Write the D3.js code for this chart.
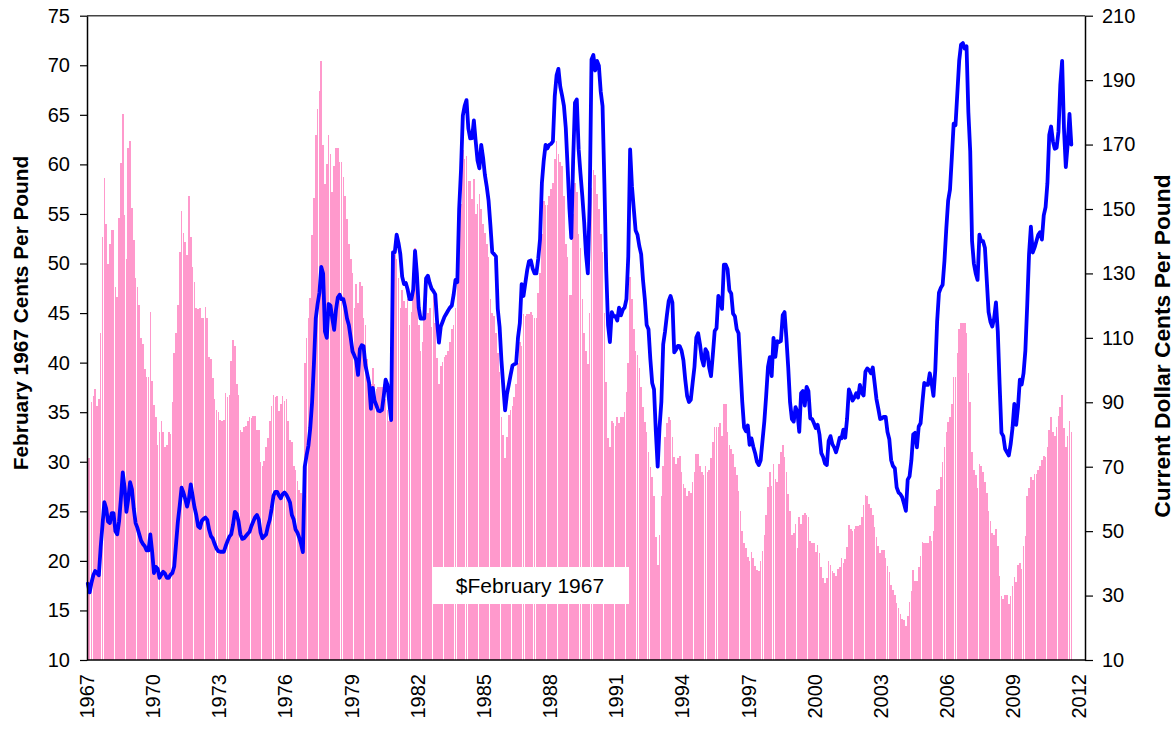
<!DOCTYPE html>
<html>
<head>
<meta charset="utf-8">
<script src="https://cdn.jsdelivr.net/npm/d3@7"></script>
<style>
  body { margin: 0; background: #ffffff; }
  svg text { font-family: "Liberation Sans", Arial, sans-serif; fill: #000; }
</style>
</head>
<body>
<svg id="chart" width="1175" height="730"></svg>
<script>
// monthly values, Feb 1967 cents per pound (pink bars, left axis)
const bars1967to1975 = [
  30.4, 30.4, 36, 36.6, 37.3, 35.6, 36.3, 43, 52.7, 58.6, 54, 50,
  52, 53.4, 53.4, 47.6, 46.6, 54.6, 60.1, 65.1, 54.9, 50.5, 61.7, 62.4,
  55.6, 52.4, 48.5, 47.6, 45.8, 42.5, 41.9, 39.4, 38.6, 38.6, 45.1, 38.1,
  35.7, 34.5, 31.7, 33, 34.1, 33, 31.5, 31.7, 33, 32.8, 36, 41,
  43, 45.8, 51.2, 55.3, 53.1, 52.2, 50.9, 56.8, 52.7, 49.6, 48.1, 45.5,
  45.4, 45.5, 44.5, 44.5, 45.6, 44.5, 40.6, 40.4, 38.4, 36.3, 35.2, 35,
  34.2, 34.1, 34.2, 36.9, 36.5, 36.7, 40.2, 42.3, 41.7, 37.8, 36.7, 33.2,
  33, 33.5, 33.6, 34.1, 34.5, 34.4, 34.6, 34.6, 33.2, 33.2, 30, 29.6,
  30.1, 31.5, 32.4, 34.1, 35.6, 36.7, 36.5, 36.6, 35.1, 35.8, 36.6, 36.1
];
const bars1976to1984 = [
  36.3, 34.1, 32.2, 32, 29.6, 29.2, 28.1, 27.2, 26.8, 25.5, 40, 42.5,
  44.5, 46.5, 52.9, 56.6, 63, 65.6, 67.4, 70.4, 62, 58, 60, 63,
  61, 57.2, 59.8, 61.7, 61.7, 60.2, 60.2, 58.7, 56.8, 54.5, 52, 50.5,
  49, 45.5, 47.9, 46, 48.1, 47.7, 44.5, 43.8, 40.4, 38.6, 37.8, 39.5,
  37.8, 37.3, 37.5, 37.5, 37.5, 37.8, 36.3, 35.2, 34.1, 34.3, 50.7, 51.6,
  50.5, 48.5, 45.5, 47.3, 46.2, 45.5, 46.4, 43.8, 45.1, 49, 51.6, 48.6,
  43.8, 41.2, 42.1, 44.5, 47, 45, 45.5, 43.6, 46.8, 44, 40.5, 37.8,
  39.7, 40.1, 40.6, 40.8, 41.2, 42.1, 43.4, 43.8, 45.5, 48, 52, 56,
  61.5, 60.5, 60.8, 58.3, 58.3, 56.5, 58.5, 55, 56, 57, 55.5, 54
];
const bars1985to1993 = [
  53.1, 52, 50.7, 46.4, 45, 44.7, 43, 41, 39.1, 34.5, 32.7, 30.4,
  32.5, 34.7, 35.2, 35.6, 36.5, 37.8, 40, 42.1, 41.7, 44.9, 44.7, 44.9,
  44.9, 45.1, 44.8, 44.5, 44.5, 47, 49, 53, 56.3, 55.9, 55.9, 56.8,
  57.5, 58.1, 60.5, 62.4, 61, 60.2, 59.8, 56.8, 52, 50.7, 46.8, 46.8,
  55, 58.1, 57.2, 53, 51.6, 46.4, 43, 41.2, 39.9, 45, 57.6, 59.4,
  58.9, 57, 55.5, 53, 51.2, 45, 38, 32.4, 31.5, 34.1, 33.9, 33.6,
  34.5, 33.9, 34.5, 34.5, 35, 37, 40, 48.6, 46.4, 43.4, 41.2, 40.8,
  39.5, 37.5, 35.5, 34, 33, 31, 29.5, 28.5, 26.5, 22.4, 19.6, 22.6,
  26.5, 29.6, 32.5, 33.9, 34.5, 34.2, 32.5, 30.5, 29.8, 30.4, 30.6, 29
];
const bars1994to2002 = [
  27.8, 27.4, 26.5, 27, 26.8, 28, 29, 30.8, 30.8, 29.6, 29, 28.7,
  29.6, 29, 29.2, 30.4, 32, 33.5, 33.5, 33.5, 33.9, 32.6, 35.8, 35.8,
  33, 31.7, 31.3, 30.8, 29.5, 28.7, 27, 25, 23, 21.8, 21.3, 20.4,
  20, 20.9, 20.3, 19.5, 19.1, 19, 20, 21, 22.6, 24.6, 27.5, 29,
  27.6, 29.8, 28.3, 28, 29.8, 31, 31.7, 30.5, 29, 26.7, 25, 22.6,
  22.8, 23.7, 21.3, 24.4, 23.7, 24.6, 24.8, 24.6, 24.4, 22, 21.8, 21.8,
  20.9, 21.6, 20.8, 19.4, 18.3, 17.8, 18.3, 20, 19.6, 19, 18.8, 18.5,
  19.2, 19.4, 20.3, 19.8, 20.2, 21.4, 23.6, 23.2, 23, 23.2, 23.5, 23.5,
  23.6, 24.4, 25.6, 26.6, 26.5, 25.7, 25.3, 24.6, 23.4, 22.4, 21.5, 20.8
];
const bars2003to2011 = [
  21.1, 21.1, 20.3, 19.5, 18.9, 17.6, 17.1, 16.6, 15.7, 15.2, 14.6, 14.1,
  14, 13.4, 14.4, 15.9, 17, 19.1, 18, 18, 19.4, 20.5, 21.9, 21.8,
  21.8, 21.8, 22.5, 22, 23, 25.5, 27.2, 27.3, 28.5, 30, 31.5, 33,
  34, 34.5, 35.8, 38.6, 38.6, 41, 43.4, 44, 44, 44, 43, 39,
  36, 31, 29.2, 28.7, 27.4, 29.8, 29.6, 29, 28, 26.8, 25, 24,
  22.8, 22.6, 23.2, 21.5, 18.5, 16.5, 16.2, 16.6, 16.6, 15.6, 16.5, 17.5,
  18.4, 17.9, 19.6, 19.8, 19.2, 21.5, 22.5, 26.5, 27.4, 28.5, 28.2, 28.8,
  28.8, 29.2, 29.6, 30.2, 30.6, 30.5, 31.5, 33.2, 34.5, 33, 32.6, 33.5,
  34.6, 35.5, 36.7, 33.4, 31.5, 32.6, 34.1, 33
];

// monthly values, current dollar cents per pound (blue line, right axis)
const line1967to1975 = [
  33.7, 31, 34, 36.3, 37.6, 37, 36.3, 45, 52, 59, 57, 53,
  52.5, 55.6, 55.6, 50, 49, 53, 60, 68.2, 63.5, 56, 60, 65.2,
  63, 57, 52.5, 51, 49, 47, 46, 45.3, 44, 44, 49, 43.6,
  37, 38.9, 38.3, 35.5, 36.5, 37.4, 36.8, 35.5, 35.5, 36.5, 37, 39,
  46, 53, 58, 63.5, 62, 60, 57.6, 60, 64.5, 61, 57.5, 55,
  51.5, 51, 53.2, 53.8, 54.2, 53.5, 50.4, 48.4, 47.7, 46, 44.6, 43.8,
  43.6, 43.6, 43.6, 45.4, 46.9, 48.3, 49, 52, 56, 55.3, 53, 49,
  47.6, 47.8, 48.5, 49.2, 49.8, 51.6, 53, 54.3, 55, 53.6, 49.5, 47.8,
  48.4, 49, 51.6, 53.6, 57, 61, 62.2, 62.2, 61, 60.2, 61.5, 62
];
const line1976to1984 = [
  61.3, 60.2, 58.9, 55, 53.6, 50.5, 49.6, 48, 46, 43.5, 70, 73.5,
  76.5, 82, 90, 102, 116, 120.5, 124, 132, 130, 112, 110, 120.5,
  120, 116, 112.5, 118.7, 122.5, 123.4, 122, 122, 119.5, 116, 114, 110,
  105.8, 104.5, 103, 98.5, 106.5, 107.7, 107.4, 101.5, 98.8, 96, 88, 94.5,
  90.5, 89, 87.4, 87.2, 87.6, 92, 97, 95.5, 90, 84.5, 136.5, 136.6,
  142, 139.5, 136, 129, 126.7, 127, 125, 122, 122, 125, 137, 130,
  119.4, 116, 116, 116, 128.5, 129.3, 127, 125.3, 124.5, 123.5, 115, 108.5,
  113.5, 115, 116.5, 117.5, 118.5, 119.4, 120, 123.4, 128, 127.3, 150, 162,
  179, 182, 183.8, 175, 171.9, 172, 177.5, 171, 165, 162.6, 169.9, 166
];
const line1985to1993 = [
  160.6, 157, 152.6, 145, 136.6, 136, 135.3, 119, 113.4, 103, 95, 87.5,
  92.5, 95.5, 98.5, 101.4, 101.8, 102.1, 110, 114.5, 126.7, 123, 127, 131,
  133.8, 134, 131.5, 130, 130, 134.5, 140.6, 158, 165, 169.9, 168.8, 169.9,
  170.2, 171, 185, 191.5, 193.5, 188, 185.2, 182, 175.2, 163, 150, 141,
  165, 183, 184, 168.5, 161, 154, 146, 136, 130, 152, 196.4, 197.8,
  193, 196, 194.5, 186.5, 182, 158, 131, 114, 108.7, 118, 116.7, 116.7,
  115.4, 119.4, 117, 118.7, 119.4, 122, 135.3, 168.5, 157, 150, 143.3, 142,
  138.5, 136, 128, 122, 114, 112.7, 103.4, 96, 94, 80.8, 70, 82.2,
  90.1, 108, 112, 117, 121.5, 123, 121, 105.5, 106.3, 107.5, 107.4, 106
];
const line1994to2002 = [
  103, 97, 92, 90.1, 90.8, 96, 101, 110.1, 111.4, 108, 103.5, 101.4,
  106.5, 105.5, 100.8, 98.1, 104.8, 112.1, 113, 123, 121.5, 119, 132.7, 132.7,
  131.3, 124.7, 123.8, 117.5, 116.7, 112.7, 111.4, 100.8, 90.1, 82.2, 81, 82.8,
  76.8, 78.8, 76.2, 74.2, 71.5, 70.5, 72, 78, 84, 92, 101, 104,
  98.1, 110, 104.1, 109, 108.7, 109, 117, 118, 110, 100.8, 90, 84.8,
  84, 88.5, 87, 80.8, 92.8, 93.5, 89, 94.8, 93.5, 85, 84.8, 83.5,
  82, 83, 80, 74.2, 73, 71, 70.5, 78, 79.5, 77, 76, 74.5,
  76.5, 79, 78.8, 81.5, 79, 84.8, 94, 92.5, 90.5, 91.5, 92.8, 91.5,
  95.4, 93, 92.1, 99.5, 100.5, 100, 99, 100.8, 96, 91, 88, 84.8
];
const line2003to2011 = [
  85, 85.5, 85.5, 80.8, 78.5, 72, 70.2, 69.5, 63.6, 62, 61.5, 60.5,
  58.5, 56.3, 66, 67, 72, 80, 80.5, 76, 82.5, 83.5, 90, 96,
  95.5, 95.4, 99, 96, 92, 100, 115, 124, 125.5, 126.5, 134, 144,
  152.6, 156, 166, 176.5, 176, 186, 196, 201, 201.5, 199.8, 200.5, 180,
  168, 140, 133, 130, 128, 142, 140, 140, 138, 128, 118, 115,
  113.5, 116, 121, 112, 95.5, 80.5, 79.5, 75.5, 74.5, 73.5, 77, 82,
  89.5, 83, 88.5, 97, 95.5, 99, 106, 120, 136, 144.5, 136.5, 138,
  140, 142, 142.8, 140.5, 148, 150.6, 158, 173, 175.6, 171, 168.7, 169,
  174, 188.5, 196, 175, 163, 170, 179.5, 170
];

// axis labels
const yearLabels = ["1967", "1970", "1973", "1976", "1979", "1982", "1985", "1988",
  "1991", "1994", "1997", "2000", "2003", "2006", "2009", "2012"];
const leftTicks = [10, 15, 20, 25, 30, 35, 40, 45, 50, 55, 60, 65, 70, 75];
const rightTicks = [10, 30, 50, 70, 90, 110, 130, 150, 170, 190, 210];

const barValues = [].concat(bars1967to1975, bars1976to1984, bars1985to1993, bars1994to2002, bars2003to2011);
const lineValues = [].concat(line1967to1975, line1976to1984, line1985to1993, line1994to2002, line2003to2011);

const svg = d3.select("#chart");

// plot box
const plotLeft = 87, plotRight = 1085, plotTop = 15.7, plotBottom = 660;
const slotCount = 543;   // monthly slots on the axis, Jan 1967 to Mar 2012

const x = d3.scaleBand()
    .domain(d3.range(slotCount))
    .range([plotLeft, plotRight])
    .paddingInner(0.12);

const xYears = d3.scaleLinear()
    .domain([0, slotCount])
    .range([plotLeft, plotRight]);

const yLeft = d3.scaleLinear().domain([10, 75]).range([plotBottom, plotTop]);
const yRight = d3.scaleLinear().domain([10, 210]).range([plotBottom, plotTop]);

// pink bars
svg.append("g")
    .selectAll("rect")
    .data(barValues)
    .join("rect")
    .attr("x", (d, i) => x(i))
    .attr("y", d => yLeft(d))
    .attr("width", x.bandwidth())
    .attr("height", d => plotBottom - yLeft(d))
    .attr("fill", "#FF99CC")
    .attr("shape-rendering", "crispEdges");

// blue line
const line = d3.line()
    .x((d, i) => x(i) + x.bandwidth() / 2)
    .y(d => yRight(d));

svg.append("path")
    .datum(lineValues)
    .attr("d", line)
    .attr("fill", "none")
    .attr("stroke", "#0000FF")
    .attr("stroke-width", 3.8)
    .attr("stroke-linejoin", "round")
    .attr("stroke-linecap", "round");

// top border of the plot
svg.append("line")
    .attr("x1", plotLeft).attr("x2", plotRight)
    .attr("y1", plotTop).attr("y2", plotTop)
    .attr("stroke", "#444")
    .attr("stroke-width", 1.5);

// bottom axis line
svg.append("line")
    .attr("x1", plotLeft).attr("x2", plotRight)
    .attr("y1", plotBottom).attr("y2", plotBottom)
    .attr("stroke", "#000")
    .attr("stroke-width", 1.5);

// left axis
const leftAxis = svg.append("g")
    .attr("transform", `translate(${plotLeft},0)`)
    .call(d3.axisLeft(yLeft).tickValues(leftTicks).tickSize(7).tickSizeOuter(0).tickPadding(10));

// right axis
const rightAxis = svg.append("g")
    .attr("transform", `translate(${plotRight},0)`)
    .call(d3.axisRight(yRight).tickValues(rightTicks).tickSize(8).tickSizeOuter(0).tickPadding(9));

[leftAxis, rightAxis].forEach(g => {
    g.select(".domain").attr("stroke", "#000").attr("stroke-width", 1.5);
    g.selectAll(".tick line").attr("stroke", "#000").attr("stroke-width", 1.2);
    g.selectAll(".tick text").attr("font-size", 20).attr("fill", "#000")
        .style("font-family", "'Liberation Sans', Arial, sans-serif");
});

// year labels, rotated, every 36 months
svg.append("g")
    .selectAll("text")
    .data(yearLabels)
    .join("text")
    .attr("transform", (d, i) => `translate(${xYears(i * 36)},674) rotate(-90)`)
    .attr("text-anchor", "end")
    .attr("dy", "0.35em")
    .attr("font-size", 20)
    .text(d => d);

// axis titles
svg.append("text")
    .attr("transform", "translate(21,313) rotate(-90)")
    .attr("text-anchor", "middle")
    .attr("dy", "0.35em")
    .attr("font-size", 20.8)
    .attr("font-weight", "bold")
    .text("February 1967 Cents Per Pound");

svg.append("text")
    .attr("transform", "translate(1162,346) rotate(-90)")
    .attr("text-anchor", "middle")
    .attr("dy", "0.35em")
    .attr("font-size", 22.8)
    .attr("font-weight", "bold")
    .text("Current Dollar Cents Per Pound");

// label box for the bars
svg.append("rect")
    .attr("x", 432).attr("y", 567)
    .attr("width", 197).attr("height", 37)
    .attr("fill", "#fff");

svg.append("text")
    .attr("x", 530).attr("y", 593)
    .attr("text-anchor", "middle")
    .attr("font-size", 21)
    .text("$February 1967");
</script>
</body>
</html>
